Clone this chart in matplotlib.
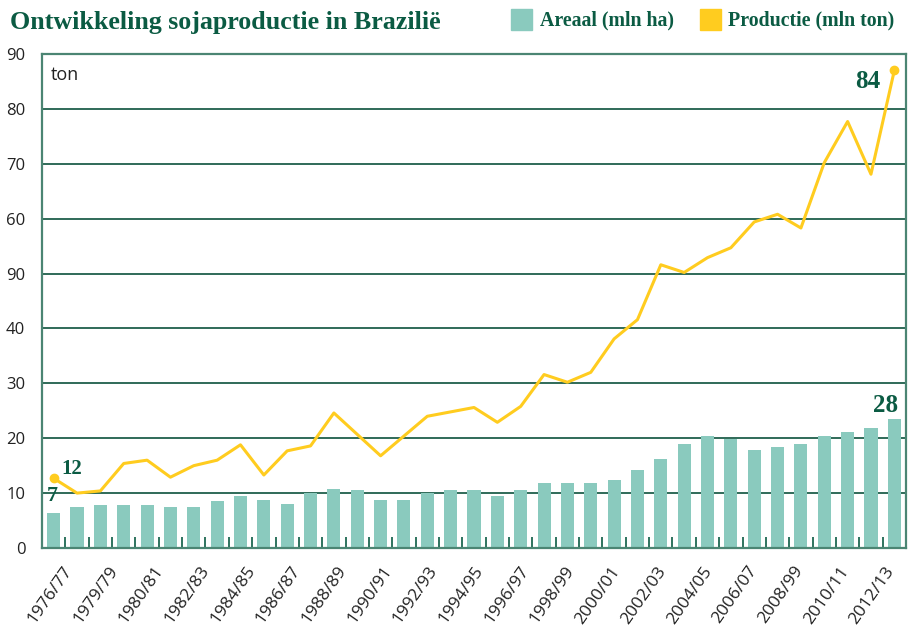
import numpy as np
import matplotlib
matplotlib.use("Agg")
import matplotlib.pyplot as plt
from matplotlib.patches import Rectangle

# seizoenen (37 stuks), label om de twee
seasons = ['1976/77', '1977/78', '1978/79', '1979/80', '1980/81', '1981/82', '1982/83',
           '1983/84', '1984/85', '1985/86', '1986/87', '1987/88', '1988/89', '1989/90',
           '1990/91', '1991/92', '1992/93', '1993/94', '1994/95', '1995/96', '1996/97',
           '1997/98', '1998/99', '1999/00', '2000/01', '2001/02', '2002/03', '2003/04',
           '2004/05', '2005/06', '2006/07', '2007/08', '2008/09', '2009/10', '2010/11',
           '2011/12', '2012/13']
tick_labels = ['1976/77', '1979/79', '1980/81', '1982/83', '1984/85', '1986/87', '1988/89',
               '1990/91', '1992/93', '1994/95', '1996/97', '1998/99', '2000/01', '2002/03',
               '2004/05', '2006/07', '2008/99', '2010/11', '2012/13']
areaal = [6.4, 7.5, 7.9, 7.9, 7.9, 7.5, 7.5, 8.5, 9.4, 8.8, 8.1, 10.0, 10.8, 10.5,
          8.8, 8.8, 10.0, 10.5, 10.5, 9.4, 10.5, 11.8, 11.8, 11.8, 12.3, 14.3, 16.3,
          18.9, 20.4, 19.8, 17.8, 18.4, 18.9, 20.4, 21.1, 21.8, 23.5]
productie = [12.7, 10.0, 10.4, 15.4, 16.0, 12.9, 15.0, 16.0, 18.8, 13.3, 17.7, 18.6,
             24.6, 20.7, 16.8, 20.4, 24.0, 24.8, 25.6, 22.9, 25.8, 31.6, 30.2, 32.0,
             38.1, 41.6, 51.6, 50.2, 52.9, 54.7, 59.4, 60.8, 58.3, 70.2, 77.7, 68.1, 87.0]
yticks = [0, 10, 20, 30, 40, 50, 60, 70, 80, 90]
ytick_labels = ['0', '10', '20', '30', '40', '90', '60', '70', '80', '90']

green = '#0b5b43'
grid_green = '#1f5f4b'
frame_green = '#4b8573'
teal = '#8acabe'
yellow = '#ffcc1f'
serif = 'Liberation Serif'

fig = plt.figure(figsize=(9.1, 6.26), dpi=100)
ax = fig.add_axes([42/910, 1-548/626, 864/910, 494/626])

x = np.arange(len(seasons))
ax.bar(x, areaal, width=0.56, color=teal, zorder=2)
ax.plot(x, productie, color=yellow, lw=2.2, zorder=3)
ax.plot([x[0], x[-1]], [productie[0], productie[-1]], 'o', color=yellow, ms=6, zorder=4)

ax.set_xlim(-0.5, len(seasons)-0.5)
ax.set_ylim(0, 90)
ax.set_yticks(yticks)
ax.set_yticklabels(ytick_labels, fontsize=12, color='#222222', family='Open Sans')
ax.tick_params(axis='y', length=0, pad=12)
ax.yaxis.grid(True, color=grid_green, lw=1.3, zorder=1)
ax.set_axisbelow(True)

# labels staan iets dichter op elkaar dan de staven
label_pos = np.linspace(-0.15, 35.05, len(tick_labels))
ax.set_xticks(label_pos)
ax.set_xticklabels(tick_labels, rotation=55, ha='center', fontsize=12.5,
                   color='#222222', family='Open Sans')
ax.tick_params(axis='x', which='major', length=0, pad=11)
ax.set_xticks(x[:-1] + 0.5, minor=True)
ax.tick_params(axis='x', which='minor', direction='in', length=8, width=1.2, color=green)

for s in ax.spines.values():
    s.set_color(frame_green)
    s.set_linewidth(1.6)

ax.text(0.01, 0.975, 'ton', transform=ax.transAxes, fontsize=13, color='#222222',
        family='Open Sans', va='top')

# waarden bij eerste en laatste punt
ax.annotate('84', xy=(x[-1], productie[-1]), xytext=(-19, -8), textcoords='offset points',
            ha='center', va='center', fontsize=18, fontweight='bold', color=green, family=serif)
ax.annotate('28', xy=(x[-1], areaal[-1]), xytext=(-6, 10), textcoords='offset points',
            ha='center', va='center', fontsize=18, fontweight='bold', color=green, family=serif)
ax.annotate('12', xy=(x[0], productie[0]), xytext=(13, 6.5), textcoords='offset points',
            ha='center', va='center', fontsize=15, fontweight='bold', color=green, family=serif)
ax.annotate('7', xy=(x[0], areaal[0]), xytext=(-1, 12), textcoords='offset points',
            ha='center', va='center', fontsize=16, fontweight='bold', color=green, family=serif)

fig.text(10/910, 1-22/626, 'Ontwikkeling sojaproductie in Brazilië', fontsize=18.7,
         fontweight='bold', color=green, family=serif, va='center')

# legenda
fig.add_artist(Rectangle((511/910, 1-30/626), 21/910, 21/626, transform=fig.transFigure,
                         color=teal))
fig.text(540/910, 1-20/626, 'Areaal (mln ha)', fontsize=14.3, fontweight='bold',
         color=green, family=serif, va='center')
fig.add_artist(Rectangle((700/910, 1-30/626), 21/910, 21/626, transform=fig.transFigure,
                         color=yellow))
fig.text(728/910, 1-20/626, 'Productie (mln ton)', fontsize=14.3, fontweight='bold',
         color=green, family=serif, va='center')

fig.savefig('out.png', dpi=100)
